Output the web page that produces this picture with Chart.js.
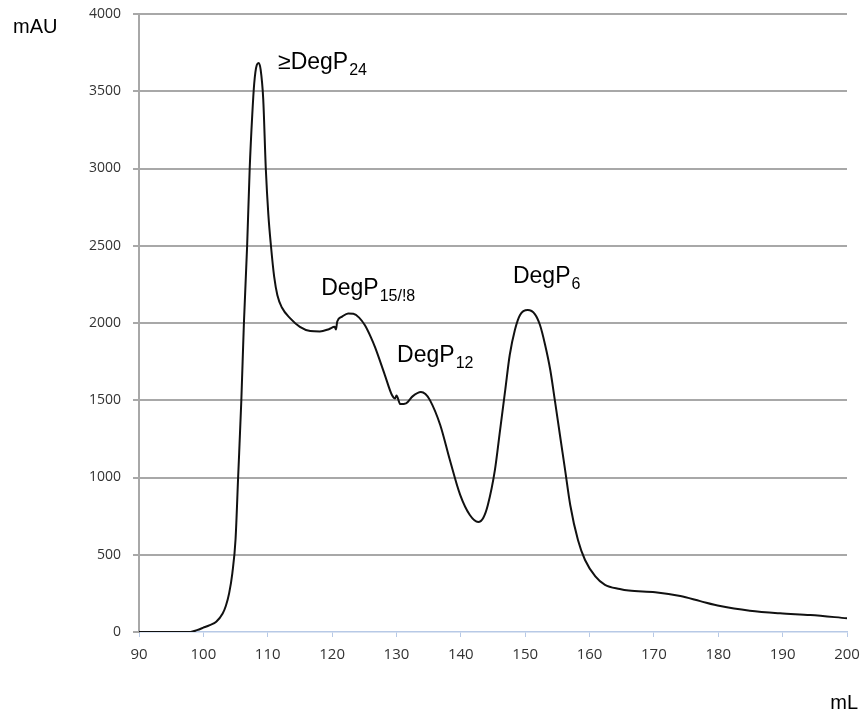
<!DOCTYPE html>
<html>
<head>
<meta charset="utf-8">
<script src="https://cdn.jsdelivr.net/npm/chart.js@4.4.1/dist/chart.umd.min.js"></script>
<style>
    body { margin: 0; background: #ffffff; }
    canvas { display: block; }
</style>
</head>
<body>
<canvas id="cromatograma" width="866" height="714"></canvas>
<script>
// volume de eluição (mL) e absorbância (mAU)
const volumes = [
    90, 95, 98, 99, 100, 101, 102, 103, 103.5, 104,
    104.5, 105, 105.4, 105.9, 106.3, 106.8, 107.2, 107.6, 107.9, 108.3,
    108.6, 108.9, 109.3, 109.7, 110.1, 110.5, 111, 111.5, 112.2, 113.5,
    115, 116.6, 118.1, 119.5, 120.4, 120.6, 120.8, 121.5, 122.5, 123.3,
    124.2, 125.1, 126, 126.7, 128.2, 129.3, 129.8, 130, 130.6, 131.5,
    132.5, 133.8, 134.5, 135.2, 136.8, 138.3, 139.9, 141.4, 142.7, 143.5,
    144.2, 145.3, 146.1, 146.9, 147.6, 148.4, 149.2, 150.4, 151.5, 152.3,
    153.1, 153.9, 154.6, 155.4, 156.2, 157, 158.2, 159.3, 160.9, 162.4,
    164.7, 166.1, 170.2, 174.1, 177.2, 180.3, 184.9, 189.6, 194.3, 200
];
const absorbancia = [
    0, 0, 0, 12, 28, 45, 67, 120, 170, 250,
    380, 600, 1000, 1500, 2000, 2500, 3000, 3350, 3550, 3670,
    3683, 3640, 3450, 3000, 2700, 2500, 2300, 2180, 2100, 2030,
    1975, 1948, 1945, 1960, 1975, 1958, 2010, 2040, 2062, 2060,
    2035, 1985, 1910, 1840, 1663, 1534, 1512, 1530, 1475, 1480,
    1525, 1553, 1540, 1501, 1340, 1113, 887, 757, 712, 740,
    822, 1049, 1307, 1566, 1793, 1955, 2052, 2084, 2058, 1987,
    1858, 1696, 1502, 1275, 1049, 822, 595, 466, 360, 305,
    278, 268, 257, 233, 200, 168, 138, 121, 110, 89
];

// rótulos dos picos: texto, subscrito e posição em (mL, mAU)
const picosTexto = ['≥DegP', 'DegP', 'DegP', 'DegP'];
const picosSub = ['24', '15/!8', '12', '6'];
const picosVolume = [111.6, 118.3, 130.1, 148.1];
const picosAltura = [3644, 2181, 1748, 2259];

const pontos = volumes.map((v, i) => ({ x: v, y: absorbancia[i] }));

const rotulosPicos = {
    id: 'rotulosPicos',
    afterDraw(chart) {
        const ctx = chart.ctx;
        const x = chart.scales.x;
        const y = chart.scales.y;
        ctx.save();
        ctx.fillStyle = '#000000';
        ctx.textBaseline = 'alphabetic';
        ctx.textAlign = 'left';
        picosTexto.forEach((texto, i) => {
            const px = x.getPixelForValue(picosVolume[i]);
            const py = y.getPixelForValue(picosAltura[i]);
            ctx.font = '23px "Liberation Sans", Arial, sans-serif';
            ctx.fillText(texto, px, py);
            const w = ctx.measureText(texto).width;
            ctx.font = '16px "Liberation Sans", Arial, sans-serif';
            ctx.fillText(picosSub[i], px + w + 1, py + 6);
        });

        // unidades dos eixos
        const area = chart.chartArea;
        ctx.font = '20px "Liberation Sans", Arial, sans-serif';
        ctx.textAlign = 'left';
        ctx.fillText('mAU', 13, 33);
        ctx.textAlign = 'right';
        ctx.fillText('mL', area.right + 11, area.bottom + 77);
        ctx.restore();
    }
};

new Chart(document.getElementById('cromatograma'), {
    type: 'line',
    data: {
        datasets: [{
            data: pontos,
            borderColor: '#111111',
            borderWidth: 2,
            pointRadius: 0,
            fill: false,
            cubicInterpolationMode: 'monotone'
        }]
    },
    options: {
        responsive: false,
        animation: false,
        devicePixelRatio: 1,
        layout: {
            padding: { top: 14, right: 19, bottom: 0, left: 0 }
        },
        plugins: {
            legend: { display: false },
            tooltip: { enabled: false }
        },
        scales: {
            x: {
                type: 'linear',
                min: 90,
                max: 200,
                afterFit: (scale) => {
                    scale.height = 82;
                    scale.paddingLeft = 0;
                    scale.paddingRight = 0;
                },
                ticks: {
                    stepSize: 10,
                    color: '#333333',
                    padding: 9,
                    maxRotation: 0,
                    callback: (v) => String(v),
                    font: { family: '"Open Sans", sans-serif', size: 15 }
                },
                grid: {
                    drawOnChartArea: false,
                    drawTicks: true,
                    tickLength: 5,
                    color: '#b7c9e6'
                },
                border: { color: '#b7c9e6', width: 1.5 }
            },
            y: {
                min: 0,
                max: 4000,
                afterFit: (scale) => {
                    scale.width = 139;
                    scale.paddingTop = 0;
                    scale.paddingBottom = 0;
                },
                ticks: {
                    stepSize: 500,
                    color: '#333333',
                    padding: 12,
                    callback: (v) => String(v),
                    font: { family: '"Open Sans", sans-serif', size: 14 }
                },
                grid: {
                    color: (c) => c.tick && c.tick.value === 0 ? 'rgba(0,0,0,0)' : '#a8a8a8',
                    tickColor: '#a8a8a8',
                    lineWidth: 2,
                    tickLength: 6
                },
                border: { color: '#a8a8a8', width: 2 }
            }
        }
    },
    plugins: [rotulosPicos]
});
</script>
</body>
</html>
